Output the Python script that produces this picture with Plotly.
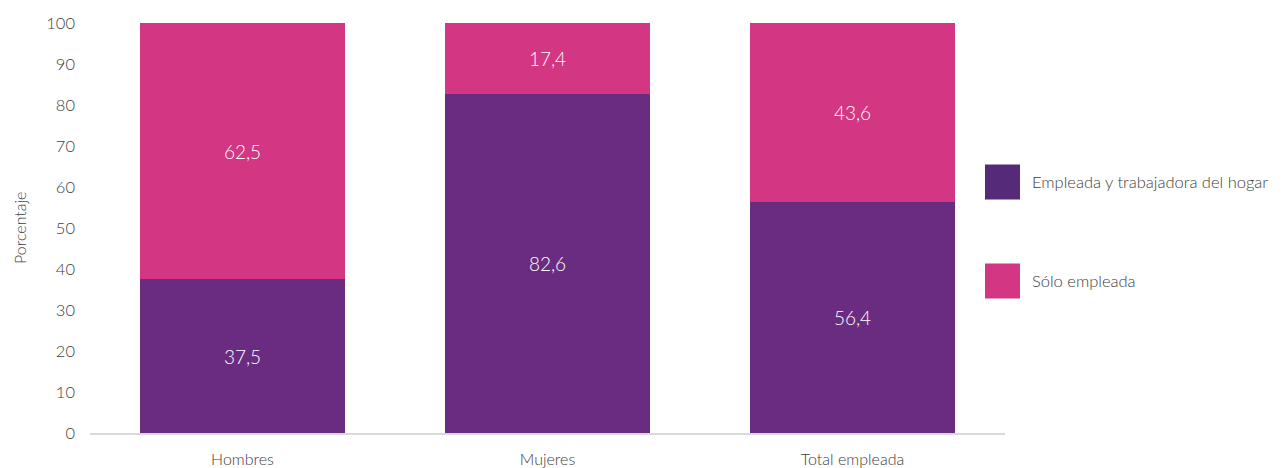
import plotly.graph_objects as go

categories = ["Hombres", "Mujeres", "Total empleada"]
empleada_hogar = [37.5, 82.6, 56.4]
solo_empleada = [62.5, 17.4, 43.6]
series_names = ["Empleada y trabajadora del hogar", "Sólo empleada"]
y_ticks = [0, 10, 20, 30, 40, 50, 60, 70, 80, 90, 100]

bar_colors = ["#6a2c80", "#d33682"]
legend_colors = ["#552a78", "#d33682"]
font_family = "Lato, 'Open Sans', sans-serif"
grey = "#404040"

W, H = 1283, 468
L, R, T, B = 90, 278, 23, 35
pw, ph = W - L - R, H - T - B

def px_x(x):
    return (x - L) / pw

def px_y(y):
    return (H - B - y) / ph

fig = go.Figure()
for vals, name, col in zip([empleada_hogar, solo_empleada], series_names, bar_colors):
    fig.add_trace(go.Bar(
        x=categories, y=vals, name=name, marker_color=col, showlegend=False,
        marker_line_width=0,
        texttemplate="%{y:.1f}", textposition="inside", insidetextanchor="middle",
        textfont=dict(color="white", size=19, family=font_family, weight=300),
        hoverinfo="skip",
    ))

shapes = []
annotations = []
legend_y = [182, 281]
for name, col, cy in zip(series_names, legend_colors, legend_y):
    shapes.append(dict(type="rect", xref="paper", yref="paper",
                       x0=px_x(985), x1=px_x(1020), y0=px_y(cy + 17.5), y1=px_y(cy - 17.5),
                       fillcolor=col, line=dict(width=0)))
    annotations.append(dict(xref="paper", yref="paper", x=px_x(1030), y=px_y(cy),
                            text=name, showarrow=False, xanchor="left", yanchor="middle",
                            font=dict(size=16.5, color=grey, family=font_family, weight=300)))

annotations.append(dict(xref="paper", yref="paper", x=px_x(19), y=px_y(228),
                        text="Porcentaje", showarrow=False, textangle=-90,
                        xanchor="center", yanchor="middle",
                        font=dict(size=16, color=grey, family=font_family, weight=300)))

fig.update_layout(
    width=W, height=H, barmode="stack", bargap=0.33,
    margin=dict(l=L, r=R, t=T, b=B, autoexpand=False),
    paper_bgcolor="white", plot_bgcolor="white",
    separators=",.",
    font=dict(family=font_family, color=grey, size=16, weight=300),
    shapes=shapes, annotations=annotations,
    xaxis=dict(showgrid=False, showline=True, linecolor="#d9d9d9", linewidth=1.5,
               ticks="", ticklabelstandoff=11,
               tickfont=dict(size=16, color=grey, family=font_family, weight=300),
               fixedrange=True),
    yaxis=dict(range=[0, 100], tickvals=y_ticks, showgrid=False, zeroline=False,
               showline=False, ticks="", ticklabelstandoff=14,
               tickfont=dict(size=16.5, color=grey, family=font_family, weight=300),
               fixedrange=True),
)

fig.write_html("out.html", config={"displayModeBar": False})
